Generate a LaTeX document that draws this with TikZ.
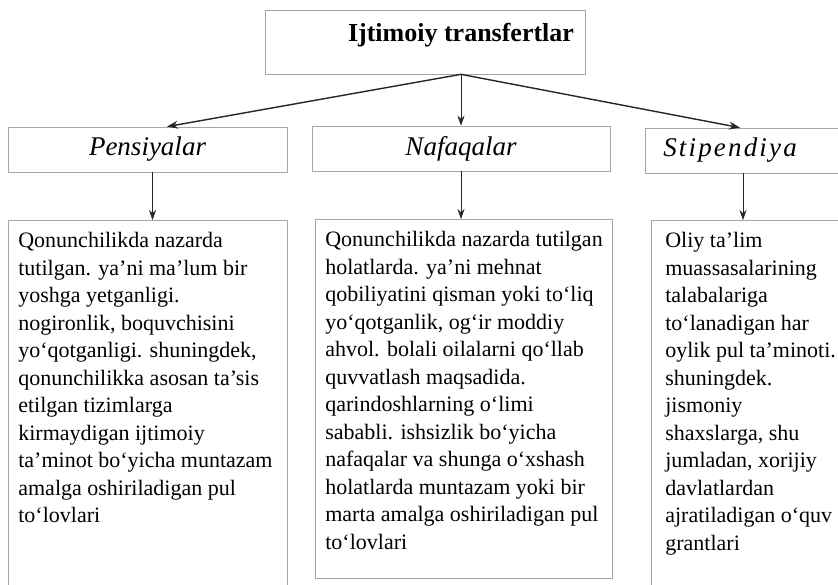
\documentclass[tikz,border=0pt]{standalone}
\usepackage{fontspec}
\setmainfont{Liberation Serif}
\usetikzlibrary{arrows.meta}
\newcommand\tl[1]{\mbox{#1}\\}
\begin{document}
\begin{tikzpicture}[x=1pt,y=-1pt,
  box/.style={draw=gray!70, line width=0.7pt, inner sep=0pt},
  conn/.style={draw=black!85, line width=1.4pt, -{Stealth[length=11pt,width=8pt]}},
  down/.style={draw=black!85, line width=0.6pt, -{Stealth[length=10pt,width=7pt]}},
  headtext/.style={font=\itshape\fontsize{27}{30}\selectfont},
  bodytext/.style={font=\fontsize{22}{27.5}\selectfont, anchor=north west, inner xsep=10pt, inner ysep=12pt, align=left}
]
\useasboundingbox (0,0) rectangle (838,585);
\fill[white] (0,0) rectangle (838,585);

% top
\node[box, minimum width=320pt, minimum height=64pt] (top) at (425,42) {};
\node[font=\bfseries\fontsize{26}{30}\selectfont, inner sep=0pt] (title) at (461,35) {Ijtimoiy transfertlar};
\coordinate (src) at (title.center |- top.south);

% middle row
\node[box, headtext, minimum width=279pt, minimum height=45pt] (pens) at (147.5,149.5) {\raisebox{-2pt}{Pensiyalar}};
\node[box, headtext, minimum width=298pt, minimum height=45pt] (nafa) at (461,148.5) {\raisebox{-2pt}{Nafaqalar}};
\node[box, headtext, anchor=west, minimum height=45pt, text width=210pt, inner xsep=18pt, align=left] (stip) at (645,150.5) {\raisebox{-2pt}{\addfontfeatures{LetterSpace=8}Stipendiya}};

% bottom row
\node[box, bodytext] (b1) at (8,220) {\begin{minipage}[t][370pt][t]{259pt}
\tl{Qonunchilikda nazarda}
\tl{tutilgan. ya'ni ma'lum bir}
\tl{yoshga yetganligi.}
\tl{nogironlik, boquvchisini}
\tl{yo`qotganligi. shuningdek,}
\tl{qonunchilikka asosan ta'sis}
\tl{etilgan tizimlarga}
\tl{kirmaydigan ijtimoiy}
\tl{ta'minot bo`yicha muntazam}
\tl{amalga oshiriladigan pul}
\mbox{to`lovlari}
\end{minipage}};

\node[box, bodytext] (b2) at (315,219) {\begin{minipage}[t][335pt][t]{277pt}
\tl{Qonunchilikda nazarda tutilgan}
\tl{holatlarda. ya'ni mehnat}
\tl{qobiliyatini qisman yoki to`liq}
\tl{yo`qotganlik, og`ir moddiy}
\tl{ahvol. bolali oilalarni qo`llab}
\tl{quvvatlash maqsadida.}
\tl{qarindoshlarning o`limi}
\tl{sababli. ishsizlik bo`yicha}
\tl{nafaqalar va shunga o`xshash}
\tl{holatlarda muntazam yoki bir}
\tl{marta amalga oshiriladigan pul}
\mbox{to`lovlari}
\end{minipage}};

\node[box, bodytext, inner xsep=14pt] (b3) at (651,220) {\begin{minipage}[t][370pt][t]{210pt}
\tl{Oliy ta'lim}
\tl{muassasalarining}
\tl{talabalariga}
\tl{to`lanadigan har}
\tl{oylik pul ta'minoti.}
\tl{shuningdek.}
\tl{jismoniy}
\tl{shaxslarga, shu}
\tl{jumladan, xorijiy}
\tl{davlatlardan}
\tl{ajratiladigan o`quv}
\mbox{grantlari}
\end{minipage}};

% connectors
\draw[conn] (src) -- ([xshift=19.5pt]pens.north);
\draw[down] (src) -- (nafa.north);
\draw[conn] (src) -- ([xshift=95pt]stip.north west);

\draw[down] ([xshift=5pt]pens.south) -- ([xshift=5pt]pens.south |- b1.north);
\draw[down] (nafa.south) -- (nafa.south |- b2.north);
\draw[down] ([xshift=98pt]stip.south west) -- ([xshift=98pt]stip.south west |- b3.north);
\end{tikzpicture}
\end{document}
